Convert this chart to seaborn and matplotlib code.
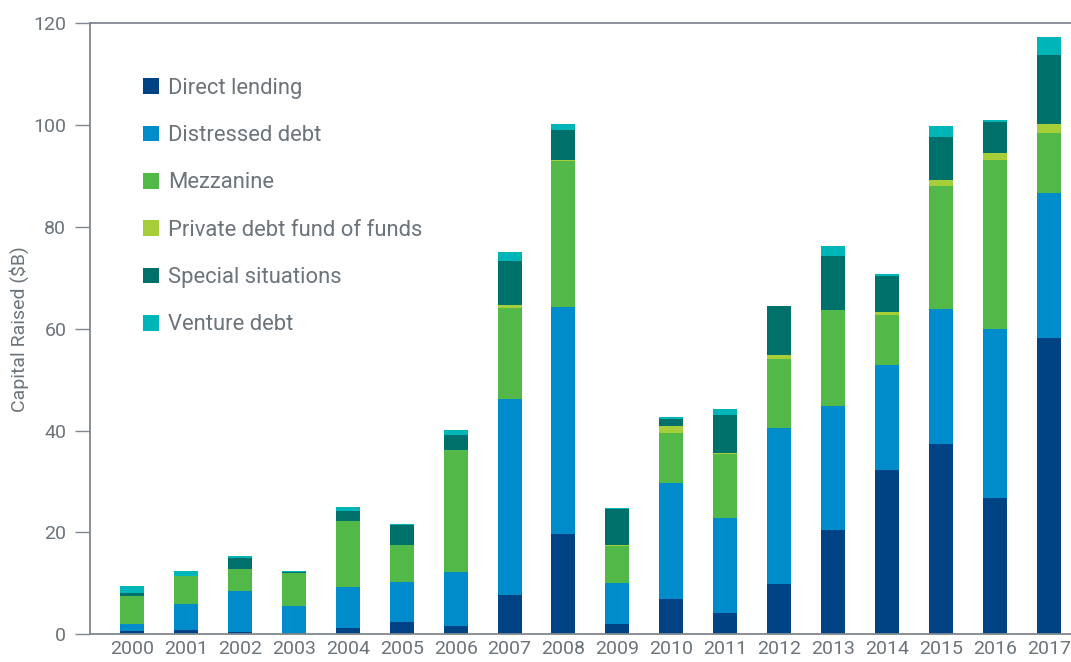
import numpy as np
import pandas as pd
import seaborn as sns
import matplotlib.pyplot as plt
from matplotlib.patches import Patch

years = list(range(2000, 2018))
categories = ["Direct lending", "Distressed debt", "Mezzanine",
              "Private debt fund of funds", "Special situations", "Venture debt"]

direct_lending = [0.6, 0.8, 0.4, 0.2, 1.2, 2.4, 1.6, 7.6, 19.6, 2.0, 6.9, 4.1, 9.8, 20.4, 32.3, 37.4, 26.8, 58.1]
distressed_debt = [1.4, 5.1, 8.0, 5.3, 8.0, 7.8, 10.6, 38.5, 44.7, 8.0, 22.7, 18.8, 30.6, 24.5, 20.5, 26.5, 33.2, 28.5]
mezzanine = [5.5, 5.5, 4.5, 6.5, 13.0, 7.4, 23.9, 18.0, 28.6, 7.3, 10.0, 12.4, 13.6, 18.8, 9.9, 24.1, 33.1, 11.9]
pd_fund_of_funds = [0, 0, 0, 0, 0, 0, 0, 0.6, 0.2, 0.3, 1.2, 0.2, 0.8, 0, 0.5, 1.2, 1.4, 1.7]
special_situations = [0.5, 0, 2.0, 0.2, 1.9, 3.8, 3.1, 8.6, 5.9, 6.9, 1.4, 7.6, 9.6, 10.6, 7.1, 8.4, 6.1, 13.5]
venture_debt = [1.4, 1.1, 0.4, 0.3, 0.8, 0.2, 1.0, 1.8, 1.2, 0.2, 0.5, 1.2, 0, 1.9, 0.4, 2.2, 0.4, 3.6]

colors = ["#004385", "#008cca", "#52b848", "#a6ce39", "#00706a", "#00b5b8"]
text_color = "#6b737b"
line_color = "#80878e"

series = [direct_lending, distressed_debt, mezzanine, pd_fund_of_funds,
          special_situations, venture_debt]
rows = []
for cat, vals in zip(categories, series):
    for yr, v in zip(years, vals):
        rows.append((yr, cat, v))
df = pd.DataFrame(rows, columns=["year", "category", "value"])

sns.set_style("white")
plt.rcParams["font.family"] = ["Roboto", "DejaVu Sans"]

fig = plt.figure(figsize=(10.71, 6.62), dpi=100)
ax = fig.add_axes([0.084, 0.042, 0.916, 0.923])

# seaborn stacks the first hue level on top, so reverse the order
sns.histplot(data=df, x="year", weights="value", hue="category",
             hue_order=categories[::-1], palette=colors[::-1],
             multiple="stack", discrete=True, shrink=0.445,
             alpha=1, linewidth=0, ax=ax, legend=False)

ax.set_xlim(2000 - 0.78, 2017 + 0.41)
ax.set_ylim(0, 120)
ax.set_yticks(range(0, 121, 20))
ax.set_xticks(years)
ax.set_xticklabels([str(y) for y in years])
ax.set_xlabel("")
ax.set_ylabel("Capital Raised ($B)", fontsize=14, color=text_color, labelpad=3)

for side in ["left", "bottom", "top"]:
    ax.spines[side].set_visible(True)
    ax.spines[side].set_color(line_color)
    ax.spines[side].set_linewidth(1.3)
ax.spines["right"].set_visible(False)

ax.tick_params(axis="y", length=11, width=1.0, color=line_color, direction="out",
               labelsize=14, labelcolor=text_color, pad=6, left=True)
ax.tick_params(axis="x", length=0, labelsize=14, labelcolor=text_color, pad=4)

handles = [Patch(facecolor=c, edgecolor="none") for c in colors]
ax.legend(handles, categories, loc="upper left", bbox_to_anchor=(0.045, 0.925),
          frameon=False, fontsize=15.8, labelcolor=text_color,
          handlelength=0.72, handleheight=0.72, handletextpad=0.42,
          labelspacing=1.2, borderaxespad=0)

fig.savefig("out.png", dpi=100)
